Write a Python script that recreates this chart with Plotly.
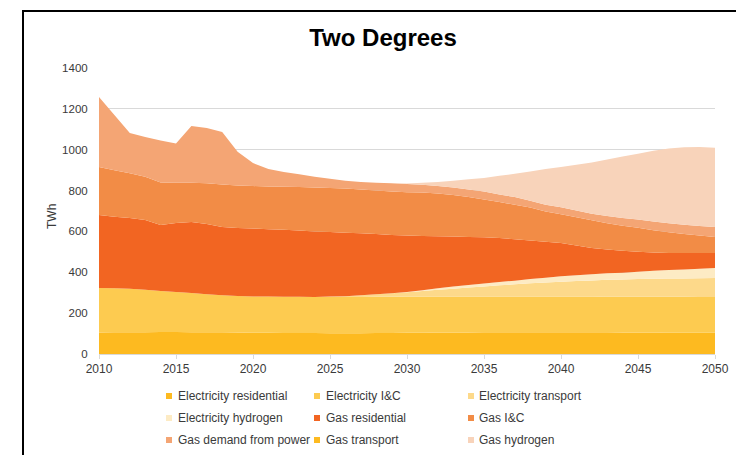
import plotly.graph_objects as go

# Final energy demand, Two Degrees scenario (TWh)
years = list(range(2010, 2051))

electricity_residential = [
    105, 106, 107, 107, 108, 108, 107, 107, 106, 105,
    104, 104, 103, 103, 103, 102, 102, 102, 103, 103,
    104, 104, 105, 105, 105, 106, 106, 106, 106, 106,
    106, 106, 106, 106, 105, 105, 105, 104, 104, 104, 104,
]
electricity_ic = [
    218, 216, 213, 208, 200, 195, 191, 186, 182, 179,
    178, 177, 177, 177, 176, 177, 177, 177, 177, 177,
    177, 177, 176, 176, 176, 175, 175, 175, 175, 175,
    175, 175, 175, 174, 175, 175, 175, 176, 176, 175, 175,
]
electricity_transport = [
    0, 0, 0, 0, 0, 0, 0, 0, 0, 0,
    0, 0, 0, 0, 0, 2, 4, 8, 12, 17,
    21, 27, 33, 39, 45, 50, 55, 60, 65, 69,
    73, 76, 79, 83, 85, 87, 88, 89, 90, 92, 93,
]
electricity_hydrogen = [
    0, 0, 0, 0, 0, 0, 0, 0, 0, 0,
    0, 0, 0, 0, 0, 0, 0, 0, 0, 0,
    1, 4, 8, 10, 12, 14, 16, 18, 21, 23,
    26, 28, 30, 32, 33, 36, 39, 42, 44, 46, 49,
]
gas_residential = [
    357, 350, 346, 341, 323, 338, 348, 343, 334, 333,
    332, 330, 328, 324, 321, 316, 311, 304, 295, 286,
    277, 266, 255, 245, 235, 226, 216, 203, 188, 176,
    163, 146, 129, 117, 107, 97, 90, 84, 80, 77, 73,
]
gas_ic = [
    235, 228, 219, 212, 209, 197, 192, 200, 208, 208,
    208, 209, 211, 214, 215, 216, 216, 214, 213, 212,
    212, 212, 209, 203, 195, 185, 176, 168, 162, 149,
    141, 139, 136, 128, 123, 118, 109, 101, 94, 86, 79,
]
gas_power = [
    343, 270, 197, 194, 205, 192, 278, 270, 257, 165,
    113, 85, 72, 62, 53, 45, 38, 37, 38, 41,
    40, 38, 36, 37, 37, 39, 37, 38, 33, 33,
    34, 33, 31, 36, 38, 40, 42, 44, 45, 47, 49,
]
gas_transport = [0] * 41
gas_hydrogen = [
    0, 0, 0, 0, 0, 0, 0, 0, 0, 0,
    0, 0, 0, 0, 0, 0, 0, 0, 0, 0,
    3, 10, 20, 33, 50, 67, 91, 114, 143, 174,
    197, 223, 252, 276, 301, 322, 347, 366, 379, 386, 388,
]

series_names = [
    "Electricity residential", "Electricity I&C", "Electricity transport",
    "Electricity hydrogen", "Gas residential", "Gas I&C",
    "Gas demand from power", "Gas transport", "Gas hydrogen",
]
series_values = [
    electricity_residential, electricity_ic, electricity_transport,
    electricity_hydrogen, gas_residential, gas_ic,
    gas_power, gas_transport, gas_hydrogen,
]
series_colors = [
    "#FDBA20", "#FDCB50", "#FDD98A", "#FDEBC4",
    "#F26522", "#F28C46", "#F4A574", "#FDBA20", "#F8D3BA",
]

y_ticks = [0, 200, 400, 600, 800, 1000, 1200, 1400]
x_ticks = [2010, 2015, 2020, 2025, 2030, 2035, 2040, 2045, 2050]

FONT = "Liberation Sans, Arial, sans-serif"
TEXT = "#3a3a3a"

# plot area in pixels (for positioning the hand-built legend and frame)
W, H = 736, 455
L, R, T, B = 99, 715, 68, 354


def px_x(px):
    return (px - L) / (R - L)


def px_y(py):
    return (B - py) / (B - T)


fig = go.Figure()
for name, vals, col in zip(series_names, series_values, series_colors):
    fig.add_trace(go.Scatter(
        x=years, y=vals, name=name, mode="none",
        stackgroup="demand", fillcolor=col, showlegend=False,
    ))

frame = dict(color="#000000", width=2)
shapes = [
    # chart frame: left and top edges
    dict(type="line", xref="paper", yref="paper",
         x0=px_x(23), x1=px_x(23), y0=px_y(H + 5), y1=px_y(11), line=frame),
    dict(type="line", xref="paper", yref="paper",
         x0=px_x(22), x1=px_x(W + 5), y0=px_y(11), y1=px_y(11), line=frame),
]
annotations = [
    dict(text="TWh", xref="paper", yref="paper", x=px_x(52), y=px_y(217),
         textangle=-90, showarrow=False, xanchor="center", yanchor="middle",
         font=dict(family=FONT, size=12, color=TEXT)),
]

# legend: three columns of small squares with labels
col_sq = [169, 317, 471]
col_txt = [176, 324, 477]
row_y = [396, 418, 440]
sq = 3
for i, (name, col) in enumerate(zip(series_names, series_colors)):
    c, r = i % 3, i // 3
    shapes.append(dict(
        type="rect", xref="paper", yref="paper",
        x0=px_x(col_sq[c] - sq), x1=px_x(col_sq[c] + sq),
        y0=px_y(row_y[r] + sq), y1=px_y(row_y[r] - sq),
        line=dict(width=0), fillcolor=col,
    ))
    annotations.append(dict(
        text=name, xref="paper", yref="paper",
        x=px_x(col_txt[c]), y=px_y(row_y[r]),
        xanchor="left", yanchor="middle", showarrow=False,
        font=dict(family=FONT, size=12, color=TEXT),
    ))

fig.update_layout(
    width=W, height=H,
    margin=dict(l=L, r=W - R, t=T, b=H - B, autoexpand=False),
    paper_bgcolor="white", plot_bgcolor="white",
    title=dict(text="<b>Two Degrees</b>", x=383 / W, xanchor="center",
               y=1 - 38 / H, yanchor="middle", yref="container",
               font=dict(family=FONT, size=24, color="#000000")),
    font=dict(family=FONT, size=12, color=TEXT),
    showlegend=False,
    shapes=shapes,
    annotations=annotations,
    xaxis=dict(
        range=[2010, 2050], tickvals=x_ticks, ticktext=[str(v) for v in x_ticks],
        showgrid=False, zeroline=False, showline=True, linecolor="#d9d9d9",
        ticks="outside", ticklen=4, tickcolor="#d9d9d9", automargin=False,
        tickfont=dict(family=FONT, size=12, color=TEXT),
    ),
    yaxis=dict(
        range=[0, 1400], tickvals=y_ticks, ticktext=[str(v) for v in y_ticks],
        showgrid=True, gridcolor="#d9d9d9", gridwidth=1, zeroline=False,
        ticks="outside", ticklen=8, tickcolor="rgba(0,0,0,0)", automargin=False,
        tickfont=dict(family=FONT, size=11.5, color=TEXT),
    ),
)

fig.write_html("out.html")
